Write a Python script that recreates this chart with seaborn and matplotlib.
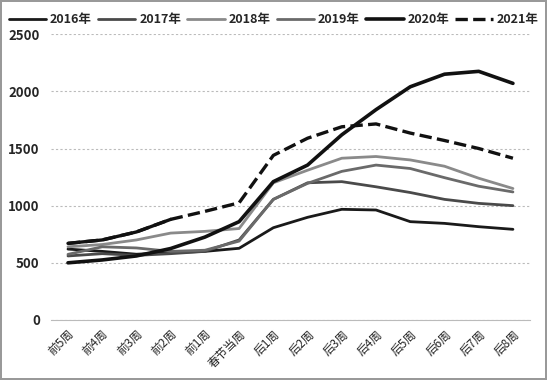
import numpy as np
import pandas as pd
import matplotlib
matplotlib.use("Agg")
import matplotlib.pyplot as plt
import seaborn as sns

# weekly values around the Spring Festival
weeks = ["前5周", "前4周", "前3周", "前2周", "前1周", "春节当周",
         "后1周", "后2周", "后3周", "后4周", "后5周", "后6周", "后7周", "后8周"]

y2016 = [620, 600, 575, 590, 600, 627, 807, 898, 968, 962, 860, 845, 816, 793]
y2017 = [560, 580, 565, 580, 600, 700, 1055, 1200, 1210, 1165, 1115, 1055, 1020, 1000]
y2018 = [640, 660, 700, 760, 775, 800, 1200, 1310, 1415, 1430, 1400, 1345, 1240, 1150]
y2019 = [574, 640, 630, 600, 610, 690, 1055, 1195, 1300, 1355, 1325, 1245, 1170, 1120]
y2020 = [500, 525, 560, 625, 725, 860, 1210, 1355, 1620, 1840, 2040, 2150, 2175, 2070]
y2021 = [670, 700, 770, 880, 950, 1025, 1440, 1590, 1690, 1715, 1635, 1570, 1500, 1415]

years = ["2016年", "2017年", "2018年", "2019年", "2020年", "2021年"]
series = [y2016, y2017, y2018, y2019, y2020, y2021]
colors = ["#1a1a1a", "#4a4a4a", "#8a8a8a", "#6a6a6a", "#111111", "#111111"]
widths = [2.0, 2.0, 2.0, 2.0, 2.6, 2.4]

sns.set_style("white")
plt.rcParams["font.family"] = ["Noto Sans CJK SC", "DejaVu Sans"]

fig = plt.figure(figsize=(5.47, 3.80), dpi=100, edgecolor="#999999", linewidth=1.5)
ax = fig.add_axes([0.093, 0.158, 0.876, 0.752])

x = np.arange(len(weeks))
for name, vals, c, w in zip(years, series, colors, widths):
    df = pd.DataFrame({"x": x, "v": vals})
    ls = "--" if name == "2021年" else "-"
    sns.lineplot(data=df, x="x", y="v", ax=ax, color=c, lw=w, linestyle=ls,
                 label=name)

# 2021 drawn solid before the festival as in the original
df21 = pd.DataFrame({"x": x[:4], "v": y2021[:4]})
sns.lineplot(data=df21, x="x", y="v", ax=ax, color="#111111", lw=2.4, legend=False)

ax.set_xlim(-0.5, len(weeks) - 0.5)
ax.set_ylim(0, 2500)
ax.set_yticks([0, 500, 1000, 1500, 2000, 2500])
ax.yaxis.grid(True, linestyle=(0, (2, 2)), color="#bbbbbb", lw=0.8)
ax.set_xticks(x)
ax.set_xticklabels(weeks, rotation=45, ha="right", rotation_mode="anchor",
                   fontsize=8.5, fontweight="medium")
ax.tick_params(axis="y", labelsize=9.5, length=0, pad=8)
ax.tick_params(axis="x", length=3, color="#bbbbbb", pad=3)
for lab in ax.get_yticklabels():
    lab.set_fontweight("bold")
ax.set_xlabel("")
ax.set_ylabel("")
for s in ["top", "right", "left"]:
    ax.spines[s].set_visible(False)
ax.spines["bottom"].set_color("#bbbbbb")

handles, labels = ax.get_legend_handles_labels()
ax.legend_.remove()
fig.legend(handles, labels, loc="upper center", bbox_to_anchor=(0.5, 0.995),
           ncol=6, frameon=False, handlelength=3.0, handletextpad=0.3,
           columnspacing=0.5, prop={"weight": "bold", "size": 9})

fig.savefig("out.png", dpi=100, edgecolor=fig.get_edgecolor())
